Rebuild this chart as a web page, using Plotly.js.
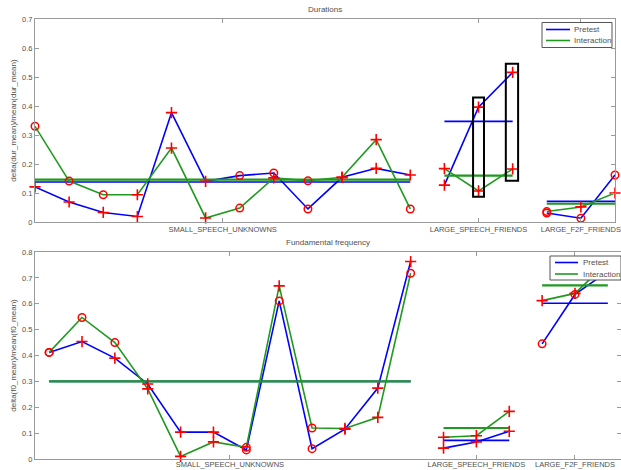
<!DOCTYPE html>
<html><head><meta charset="utf-8">
<script src="https://cdn.plot.ly/plotly-3.0.1.min.js"></script>
<style>html,body{margin:0;padding:0;background:#fff;overflow:hidden}#chart{width:621px;height:470px}</style>
</head><body><div id="chart"></div>
<script>
// ---- data ----
const groups = ['SMALL_SPEECH_UNKNOWNS', 'LARGE_SPEECH_FRIENDS', 'LARGE_F2F_FRIENDS'];
const groupSizes = [12, 3, 3];
const seriesNames = ['Pretest', 'Interaction'];

const durPretest = [0.121, 0.069, 0.033, 0.019, 0.377, 0.140, 0.160, 0.169, 0.045, 0.154, 0.185, 0.162, 0.127, 0.396, 0.516, 0.031, 0.013, 0.162];
const durInteraction = [0.330, 0.141, 0.094, 0.094, 0.255, 0.014, 0.048, 0.152, 0.142, 0.154, 0.284, 0.045, 0.184, 0.107, 0.183, 0.036, 0.052, 0.100];
const durPretestMarkers = ['+', '+', '+', '+', '+', '+', 'o', 'o', 'o', '+', '+', '+', '+', '+', '+', 'o', 'o', 'o'];
const durInteractionMarkers = ['o', 'o', 'o', '+', '+', '+', 'o', '+', 'o', '+', '+', 'o', '+', '+', '+', 'o', '+', '+'];
const durPretestMeans = [0.138, 0.347, 0.071];
const durInteractionMeans = [0.146, 0.160, 0.063];

const f0Pretest = [0.412, 0.454, 0.390, 0.290, 0.104, 0.104, 0.035, 0.611, 0.040, 0.115, 0.274, 0.763, 0.042, 0.066, 0.107, 0.445, 0.636, 0.725];
const f0Interaction = [0.412, 0.547, 0.450, 0.271, 0.010, 0.066, 0.045, 0.669, 0.120, 0.118, 0.161, 0.718, 0.084, 0.090, 0.184, 0.612, 0.640, 0.761];
const f0PretestMarkers = ['o', '+', '+', '+', '+', '+', 'o', 'o', 'o', '+', '+', '+', '+', '+', '+', 'o', 'o', 'o'];
const f0InteractionMarkers = ['o', 'o', 'o', '+', '+', '+', 'o', '+', 'o', '+', '+', 'o', '+', '+', '+', '+', '+', '+'];
const f0PretestMeans = [0.300, 0.072, 0.602];
const f0InteractionMeans = [0.300, 0.120, 0.671];

// ---- styles ----
const BLUE = '#0000ff', GREEN = '#1f9a1f', RED = '#ff0000';
const TXT = '#505050', AX = '#9a9a9a';

// index positions (1-based) and group spans
const starts = [];
let acc = 1;
groupSizes.forEach(s => { starts.push(acc); acc += s; });
const tickVals = starts.map((st, i) => st + (groupSizes[i] - 1) / 2);

function lineXY(vals) {
  const x = [], y = [];
  let k = 0;
  groupSizes.forEach((s, g) => {
    for (let j = 0; j < s; j++) { x.push(starts[g] + j); y.push(vals[k++]); }
    if (g < groupSizes.length - 1) { x.push(null); y.push(null); }
  });
  return {x, y};
}
function meanXY(means) {
  const x = [], y = [];
  means.forEach((m, g) => {
    x.push(starts[g], starts[g] + groupSizes[g] - 1, null);
    y.push(m, m, null);
  });
  return {x, y};
}
function markerXY(valsList, markList, sym) {
  const x = [], y = [];
  valsList.forEach((vals, si) => {
    vals.forEach((v, i) => { if (markList[si][i] === sym) { x.push(i + 1); y.push(v); } });
  });
  return {x, y};
}

function panelTraces(pre, inter, preM, interM, preMeans, interMeans, xa, ya) {
  const t = [];
  const lp = lineXY(pre), li = lineXY(inter);
  const mp = meanXY(preMeans), mi = meanXY(interMeans);
  t.push({type: 'scatter', mode: 'lines', x: lp.x, y: lp.y, xaxis: xa, yaxis: ya, name: seriesNames[0], showlegend: false,
    line: {color: BLUE, width: 1.6}, connectgaps: false, cliponaxis: false, hoverinfo: 'skip'});
  t.push({type: 'scatter', mode: 'lines', x: mp.x, y: mp.y, xaxis: xa, yaxis: ya, showlegend: false,
    line: {color: BLUE, width: 1.6}, connectgaps: false, cliponaxis: false, hoverinfo: 'skip'});
  t.push({type: 'scatter', mode: 'lines', x: li.x, y: li.y, xaxis: xa, yaxis: ya, name: seriesNames[1], showlegend: false,
    line: {color: GREEN, width: 1.6}, connectgaps: false, cliponaxis: false, hoverinfo: 'skip'});
  t.push({type: 'scatter', mode: 'lines', x: mi.x, y: mi.y, xaxis: xa, yaxis: ya, showlegend: false,
    line: {color: GREEN, width: 2.1}, connectgaps: false, cliponaxis: false, hoverinfo: 'skip'});
  const pc = markerXY([pre, inter], [preM, interM], '+');
  const po = markerXY([pre, inter], [preM, interM], 'o');
  t.push({type: 'scatter', mode: 'markers', x: pc.x, y: pc.y, xaxis: xa, yaxis: ya, showlegend: false, cliponaxis: false,
    marker: {symbol: 'cross-thin', size: 8, color: RED, line: {color: RED, width: 1.6}}, hoverinfo: 'skip'});
  t.push({type: 'scatter', mode: 'markers', x: po.x, y: po.y, xaxis: xa, yaxis: ya, showlegend: false, cliponaxis: false,
    marker: {symbol: 'circle-open', size: 7.5, color: RED, line: {color: RED, width: 1.5}}, hoverinfo: 'skip'});
  return t;
}

const data = [].concat(
  panelTraces(durPretest, durInteraction, durPretestMarkers, durInteractionMarkers, durPretestMeans, durInteractionMeans, 'x', 'y'),
  panelTraces(f0Pretest, f0Interaction, f0PretestMarkers, f0InteractionMarkers, f0PretestMeans, f0InteractionMeans, 'x2', 'y2')
);

const axBase = {showline: true, linecolor: AX, linewidth: 1, mirror: 'ticks', ticks: 'inside', ticklen: 4,
  tickcolor: AX, showgrid: false, zeroline: false, tickfont: {size: 7.5, color: TXT}, fixedrange: true,
  automargin: false, tickangle: 0};

// plot-area geometry in pixels (for the hand-drawn MATLAB-style legends)
const W = 621, H = 470, ML = 35, MR = 0, MT = 19, MB = 11;
const pw = W - ML - MR, ph = H - MT - MB;
const px = v => (v - ML) / pw, py = v => (H - MB - v) / ph;

function legendItems(box, lineX, textX, rowsY) {
  const shapes = [{type: 'rect', xref: 'paper', yref: 'paper', x0: px(box[0]), x1: px(box[1]), y0: py(box[3]), y1: py(box[2]),
    fillcolor: '#fff', line: {color: '#555', width: 1}, layer: 'above'}];
  const colors = [BLUE, GREEN];
  const ann = [];
  rowsY.forEach((ry, i) => {
    shapes.push({type: 'line', xref: 'paper', yref: 'paper', x0: px(lineX[0]), x1: px(lineX[1]), y0: py(ry), y1: py(ry),
      line: {color: colors[i], width: 1.6}, layer: 'above'});
    ann.push({text: seriesNames[i], xref: 'paper', yref: 'paper', x: px(textX), y: py(ry), xanchor: 'left', yanchor: 'middle',
      showarrow: false, font: {size: 8, color: TXT}});
  });
  return {shapes, ann};
}
const leg1 = legendItems([542, 612, 22.5, 47.5], [546, 570], 572, [29.5, 40.5]);
const leg2 = legendItems([550, 621, 256, 280], [555, 578], 581, [262.5, 274]);

const layout = {
  width: W, height: H,
  margin: {l: ML, r: MR, t: MT, b: MB},
  paper_bgcolor: '#fff', plot_bgcolor: '#fff',
  font: {family: 'Liberation Sans, Arial, sans-serif', size: 8, color: TXT},
  showlegend: false,
  xaxis: Object.assign({}, axBase, {domain: [0, 580 / 586], range: [1, 18], anchor: 'y', tickvals: tickVals, ticktext: groups}),
  yaxis: Object.assign({}, axBase, {domain: [py(222), 1], range: [0, 0.7], dtick: 0.1, anchor: 'x',
    title: {text: 'delta(dur_mean)/mean(dur_mean)', font: {size: 8, color: TXT}, standoff: 4}}),
  xaxis2: Object.assign({}, axBase, {domain: [0, 1], range: [0.57, 18.4], anchor: 'y2', tickvals: tickVals, ticktext: groups,
    ticklabelstandoff: -2}),
  yaxis2: Object.assign({}, axBase, {domain: [0, py(252)], range: [0, 0.8], dtick: 0.1, anchor: 'x2',
    title: {text: 'delta(f0_mean)/mean(f0_mean)', font: {size: 8, color: TXT}, standoff: 4}}),
  annotations: [
    {text: 'Durations', xref: 'paper', yref: 'paper', x: 290 / 586, y: 1, yanchor: 'bottom', yshift: 3, showarrow: false, font: {size: 8, color: TXT}},
    {text: 'Fundamental frequency', xref: 'paper', yref: 'paper', x: 0.5, y: py(252), yanchor: 'bottom', yshift: 3, showarrow: false, font: {size: 8, color: TXT}}
  ].concat(leg1.ann, leg2.ann),
  shapes: [
    {type: 'rect', xref: 'x', yref: 'y', x0: 13.84, x1: 14.16, y0: 0.087, y1: 0.429, line: {color: '#000', width: 2}},
    {type: 'rect', xref: 'x', yref: 'y', x0: 14.80, x1: 15.16, y0: 0.142, y1: 0.546, line: {color: '#000', width: 2}}
  ].concat(leg1.shapes, leg2.shapes)
};

Plotly.newPlot('chart', data, layout, {displayModeBar: false, staticPlot: true});
</script>
</body></html>
